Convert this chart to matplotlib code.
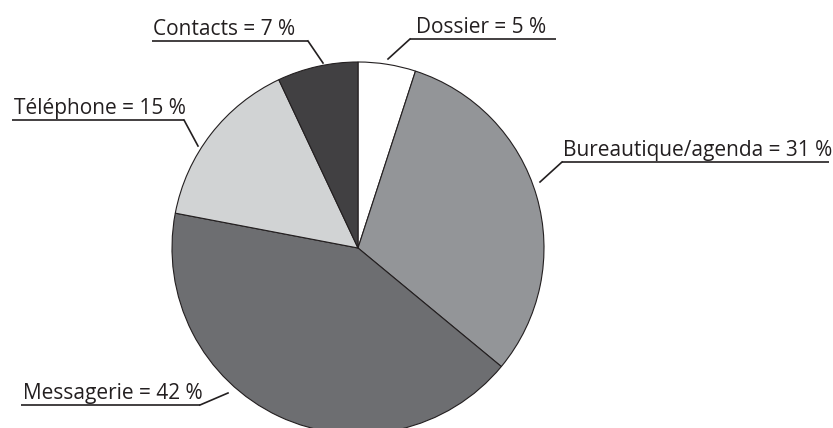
import matplotlib.pyplot as plt

# slice data, clockwise from 12 o'clock
labels = ['Dossier', 'Bureautique/agenda', 'Messagerie', 'Téléphone', 'Contacts']
values = [5, 31, 42, 15, 7]
colors = ['#ffffff', '#939598', '#6d6e71', '#d1d3d4', '#414042']

# label layout in pixels (text x, underline start, underline end, underline y, tip x, tip y)
leaders = [
    (416, 410, 556, 39, 388, 59),
    (563, 562, 829, 162, 540, 182),
    (23, 21, 200, 405, 228, 393),
    (14, 12, 184, 120, 198, 146),
    (153, 152, 308, 41, 323, 63),
]
tip_at_start = [True, True, False, False, False]

W, H = 833, 428
fig = plt.figure(figsize=(W / 100, H / 100), dpi=100)
ax = fig.add_axes([0, 0, 1, 1])

ax.pie(values, colors=colors, startangle=90, counterclock=False,
       center=(358, H - 248), radius=186,
       wedgeprops=dict(edgecolor='#231f20', linewidth=0.8), frame=True)
ax.set_xlim(0, W)
ax.set_ylim(0, H)
ax.set_aspect('equal')
ax.axis('off')

for lab, val, (tx, x0, x1, ly, px, py), start in zip(labels, values, leaders, tip_at_start):
    jx = x0 if start else x1
    ax.plot([x0, x1], [H - ly, H - ly], color='#231f20', lw=1.2, solid_capstyle='butt')
    ax.plot([jx, px], [H - ly, H - py], color='#231f20', lw=1.2)
    ax.text(tx, H - ly + 6, f'{lab} = {val} %', ha='left', va='baseline',
            fontsize=15, family='Open Sans', color='#231f20')

fig.savefig('out.png', dpi=100)
